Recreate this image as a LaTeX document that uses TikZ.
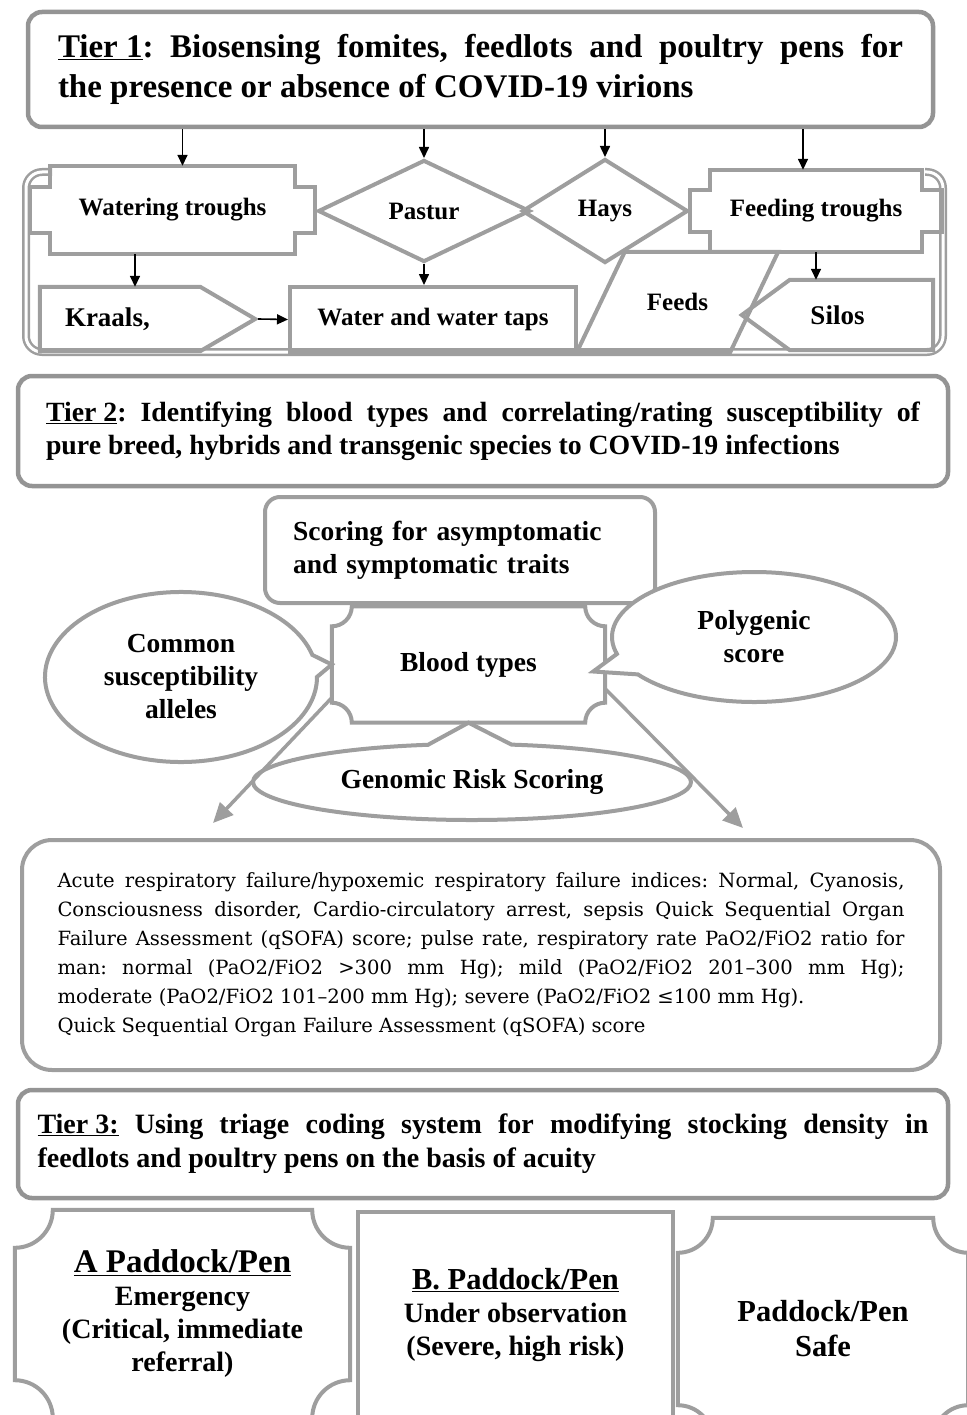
\documentclass[tikz,border=0pt]{standalone}
\usepackage{fontspec}
\setmainfont{Liberation Serif}
\newfontfamily\indexfont{DejaVu Serif}
\usetikzlibrary{shapes.geometric,shapes.callouts,arrows.meta,calc}
\definecolor{edgegray}{gray}{0.62}
\definecolor{tiergray}{gray}{0.58}
\frenchspacing
\newcommand{\tierfontA}{\fontsize{33}{40}\selectfont\bfseries}
\newcommand{\tierfontB}{\fontsize{27.8}{33}\selectfont\bfseries}
\newcommand{\tierfontC}{\fontsize{28}{34}\selectfont\bfseries}
\newcommand{\topfont}{\fontsize{25}{30}\selectfont\bfseries}
\newcommand{\bigtopfont}{\fontsize{27}{30}\selectfont\bfseries}
\newcommand{\midfont}{\fontsize{27.5}{33}\selectfont\bfseries}
\newcommand{\padfont}{\fontsize{28}{33}\selectfont\bfseries}
% box with square notches cut from its corners
\newcommand{\NotchBox}[3]{%
  \draw[shapeline] ([xshift=#2]#1.north west) -- ([xshift=-#2]#1.north east)
    -- ([xshift=-#2,yshift=-#3]#1.north east) -- ([yshift=-#3]#1.north east)
    -- ([yshift=#3]#1.south east) -- ([xshift=-#2,yshift=#3]#1.south east)
    -- ([xshift=-#2]#1.south east) -- ([xshift=#2]#1.south west)
    -- ([xshift=#2,yshift=#3]#1.south west) -- ([yshift=#3]#1.south west)
    -- ([yshift=-#3]#1.north west) -- ([xshift=#2,yshift=-#3]#1.north west) -- cycle;
}
% box with concave round corners
\newcommand{\TicketBox}[2]{%
  \draw[shapeline] ([xshift=#2]#1.north west) -- ([xshift=-#2]#1.north east)
    arc[start angle=180,end angle=270,radius=#2]
    -- ([yshift=#2]#1.south east)
    arc[start angle=90,end angle=180,radius=#2]
    -- ([xshift=#2]#1.south west)
    arc[start angle=0,end angle=90,radius=#2]
    -- ([yshift=-#2]#1.north west)
    arc[start angle=-90,end angle=0,radius=#2] -- cycle;
}
\begin{document}
\begin{tikzpicture}[x=1pt,y=-1pt,
  shapeline/.style={draw=edgegray,line width=4pt},
  framelines/.style={draw=edgegray,line width=2.5pt,double=white,double distance=3pt,rounded corners=16pt},
  tierbox/.style={draw=tiergray,line width=4.5pt,rounded corners=14pt,fill=white,align=justify},
  plainbox/.style={draw=none,inner sep=0pt,align=center,font=\topfont},
  bubble/.style={ellipse callout,draw=edgegray,line width=4pt,fill=white,inner sep=0pt,align=center,font=\midfont},
  blackarrow/.style={line width=1.6pt,-{Triangle[length=11pt,width=10pt]}},
  grayarrow/.style={draw=edgegray,line width=3.5pt,-{Triangle[length=20pt,width=18pt]}}
]
\useasboundingbox (0,0) rectangle (966,1415);

% Tier 1
\node[tierbox,font=\tierfontA,text width=845pt,inner xsep=30pt,minimum height=115pt] (tier1) at (480.5,69.5)
  {\underline{Tier 1}: Biosensing fomites, feedlots and poultry pens for\linebreak the presence or absence of COVID-19 virions};

\draw[framelines] (52,172) -| (26,352) -| (943,172) -- (925,172);

\node[plainbox,minimum width=285pt,minimum height=88pt] (wtrough) at (172.5,210) {Watering troughs};
\NotchBox{wtrough}{20pt}{21pt}
\node[diamond,shapeline,inner sep=0pt,minimum width=212pt,minimum height=102pt,font=\topfont] (pastur) at (424,211) {Pastur};
\node[diamond,shapeline,inner sep=0pt,minimum width=166pt,minimum height=104pt,font=\topfont] (hays) at (605,211) {Hays};
\node[plainbox,minimum width=252pt,minimum height=82pt] (ftrough) at (816,211) {Feeding troughs};
\NotchBox{ftrough}{20pt}{20pt}

\node[plainbox,minimum width=215pt,minimum height=64pt,text width=165pt,inner xsep=25pt,align=left,font=\bigtopfont] (kraals) at (147.5,319) {Kraals,};
\draw[shapeline] (kraals.north west) -- ([xshift=-55pt]kraals.north east) -- (kraals.east)
  -- ([xshift=-55pt]kraals.south east) -- (kraals.south west) -- cycle;
\node[plainbox,shapeline,minimum width=286pt,minimum height=65pt] (taps) at (433,319.5) {Water and water taps};
\node[plainbox,minimum width=201pt,minimum height=100pt] (feeds) at (677.5,302) {Feeds};
\draw[shapeline] ([xshift=48pt]feeds.north west) -- (feeds.north east)
  -- ([xshift=-48pt]feeds.south east) -- (feeds.south west) -- cycle;
\node[plainbox,minimum width=191pt,minimum height=70pt,font=\bigtopfont] (silos) at (837.5,315) {Silos};
\draw[shapeline] (silos.west) -- ([xshift=48pt]silos.north west) -- (silos.north east)
  -- (silos.south east) -- ([xshift=48pt]silos.south west) -- cycle;

\draw[blackarrow] ([xshift=10pt]wtrough.north |- tier1.south) -- ([xshift=10pt]wtrough.north);
\draw[blackarrow] (pastur.north |- tier1.south) -- (pastur.north);
\draw[blackarrow] (hays.north |- tier1.south) -- (hays.north);
\draw[blackarrow] ([xshift=-13pt]ftrough.north |- tier1.south) -- ([xshift=-13pt]ftrough.north);
\draw[blackarrow] ([xshift=-37.5pt]wtrough.south) -- ([xshift=-37.5pt]wtrough.south |- kraals.north);
\draw[blackarrow] (pastur.south) -- (pastur.south |- taps.north);
\draw[blackarrow] (ftrough.south) -- (ftrough.south |- silos.north);
\draw[blackarrow] ([xshift=3pt]kraals.east) -- (taps.west);

% Tier 2
\node[tierbox,font=\tierfontB,text width=874pt,inner xsep=28pt,minimum height=110pt] (tier2) at (483,431)
  {\underline{Tier 2}: Identifying blood types and correlating/rating susceptibility of\linebreak pure breed, hybrids and transgenic species to COVID-19 infections};

\node[plainbox,minimum width=273pt,minimum height=116pt,font=\midfont] (blood) at (468.5,664.5) {Blood types};
\TicketBox{blood}{20pt}
\node[draw=edgegray,line width=4pt,rounded corners=15pt,fill=white,minimum width=390pt,minimum height=106pt,
  text width=334pt,inner xsep=28pt,align=left,font=\midfont] (scoring) at (460,550)
  {Scoring for asymptomatic\\and symptomatic traits};
\node[bubble,minimum width=272pt,minimum height=170pt,callout absolute pointer={(blood.west)}] (common) at (181,677)
  {Common\\susceptibility\\alleles};
\node[bubble,minimum width=284pt,minimum height=130pt,callout pointer arc=20,
  callout absolute pointer={([xshift=-12pt,yshift=-7pt]blood.east)}] (polygenic) at (754,637) {Polygenic\\score};
\node[bubble,minimum width=438pt,minimum height=76pt,callout pointer arc=22,
  callout absolute pointer={(blood.south)}] (genomic) at (472,782) {Genomic Risk Scoring};

\coordinate (leftend) at (213,823);
\coordinate (rightend) at (743,828);
\draw[grayarrow] ([yshift=25pt]blood.south west) -- (leftend);
\draw[grayarrow] ([yshift=34pt]blood.south east) -- (rightend);

% indices box
\node[draw=edgegray,line width=4pt,rounded corners=30pt,fill=white,text width=847pt,inner xsep=35.5pt,
  minimum height=230pt,align=justify,font=\indexfont\fontsize{19.6}{29}\selectfont] (acute) at (481,955)
  {Acute respiratory failure/hypoxemic respiratory failure indices: Normal, Cyanosis,\linebreak
   Consciousness disorder, Cardio-circulatory arrest, sepsis Quick Sequential Organ\linebreak
   Failure Assessment (qSOFA) score; pulse rate, respiratory rate PaO2/FiO2 ratio for\linebreak
   man: normal (PaO2/FiO2 >300 mm Hg); mild (PaO2/FiO2 201–300 mm Hg);\linebreak
   moderate (PaO2/FiO2 101–200 mm Hg); severe (PaO2/FiO2 ≤100 mm Hg).\\
   Quick Sequential Organ Failure Assessment (qSOFA) score};

% Tier 3
\node[tierbox,font=\tierfontC,text width=891pt,inner xsep=19.5pt,minimum height=108pt] (tier3) at (483,1144)
  {\underline{Tier 3:} Using triage coding system for modifying stocking density in\linebreak feedlots and poultry pens on the basis of acuity};

\node[plainbox,minimum width=335pt,minimum height=208pt,font=\padfont] (padA) at (182.5,1314)
  {{\fontsize{33}{33}\selectfont\underline{A Paddock/Pen}}\\Emergency\\(Critical, immediate\\referral)};
\TicketBox{padA}{38pt}
\node[plainbox,shapeline,minimum width=315pt,minimum height=206pt,font=\padfont] (padB) at (515.5,1315)
  {{\fontsize{30.5}{33}\selectfont\underline{B. Paddock/Pen}}\\Under observation\\(Severe, high risk)};
\node[plainbox,minimum width=290pt,minimum height=222pt,font=\fontsize{30.5}{35}\selectfont\bfseries] (padSafe) at (823,1329)
  {Paddock/Pen\\Safe};
\TicketBox{padSafe}{35pt}
\end{tikzpicture}
\end{document}
